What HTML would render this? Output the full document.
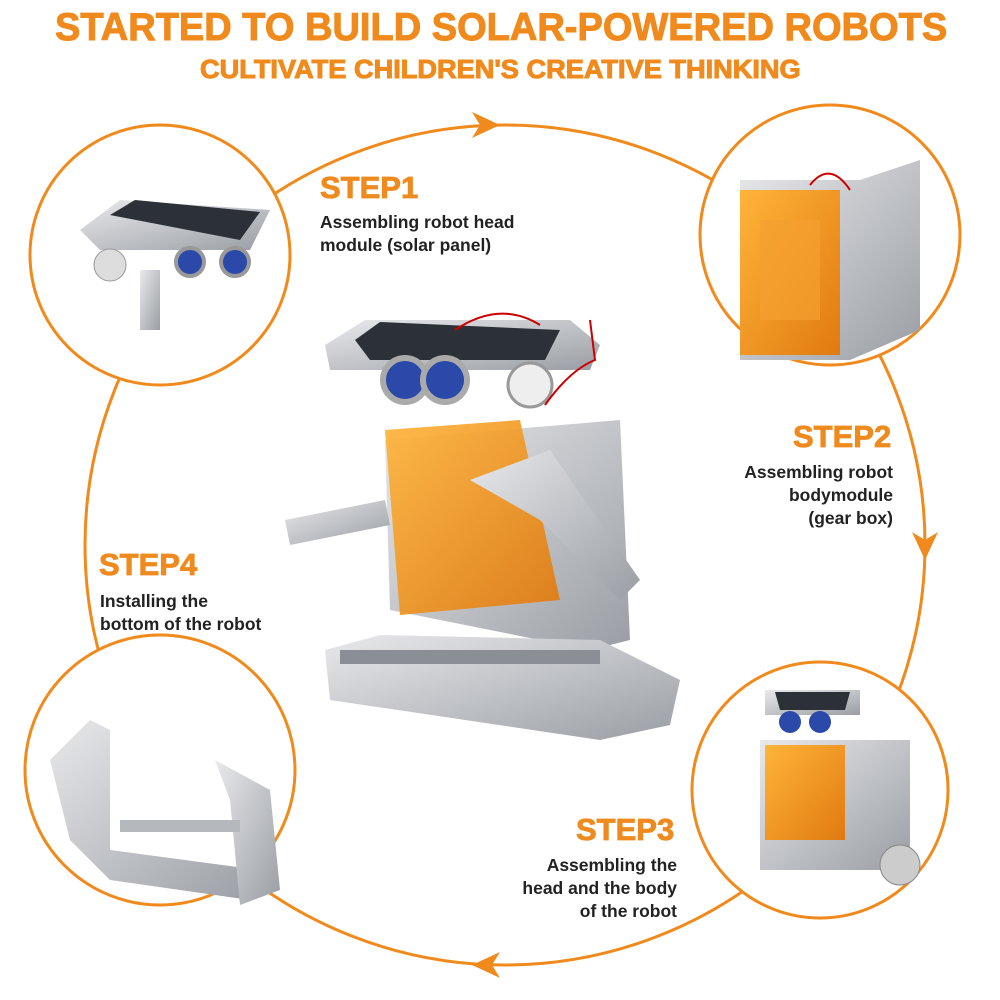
<!DOCTYPE html>
<html><head><meta charset="utf-8"><style>
body{margin:0;background:#fff;width:1000px;height:1000px;overflow:hidden;position:relative;font-family:"Liberation Sans","DejaVu Sans",sans-serif}
.t{position:absolute;font-weight:900;color:#f08a1c;white-space:nowrap;-webkit-text-stroke:1px #f08a1c;transform-origin:0 0}
.s{position:absolute;font-weight:bold;color:#ee8a1e;font-size:31px;-webkit-text-stroke:0.8px #ee8a1e}
.d{position:absolute;font-weight:bold;color:#222;font-size:17.5px;line-height:23px}
</style></head><body>
<svg width="1000" height="1000" style="position:absolute;left:0;top:0">
<defs>
<linearGradient id="g" x1="0" y1="0" x2="1" y2="1"><stop offset="0" stop-color="#e8e9eb"/><stop offset="1" stop-color="#9a9ea4"/></linearGradient>
<linearGradient id="o" x1="0" y1="0" x2="1" y2="1"><stop offset="0" stop-color="#ffb43a"/><stop offset="1" stop-color="#e07a10"/></linearGradient>
</defs>
<circle cx="505" cy="545" r="420" fill="none" stroke="#f08a1c" stroke-width="3"/>
<polygon points="472,112 500,125 472,138 480,125" fill="#f08a1c"/>
<polygon points="912,532 925,560 938,532 925,540" fill="#f08a1c"/>
<polygon points="500,952 472,965 500,978 492,965" fill="#f08a1c"/>
<circle cx="160" cy="255" r="130" fill="#fff" stroke="#f08a1c" stroke-width="3"/>
<circle cx="830" cy="235" r="130" fill="#fff" stroke="#f08a1c" stroke-width="3"/>
<circle cx="820" cy="790" r="128" fill="#fff" stroke="#f08a1c" stroke-width="3"/>
<circle cx="160" cy="770" r="135" fill="#fff" stroke="#f08a1c" stroke-width="3"/>
<polygon points="80,230 120,200 270,210 250,250 100,250" fill="url(#g)"/>
<polygon points="110,215 135,200 260,212 240,240" fill="#2c3138"/>
<circle cx="110" cy="265" r="16" fill="#ddd" stroke="#999"/>
<circle cx="190" cy="262" r="14" fill="#2a49a8" stroke="#999" stroke-width="4"/>
<circle cx="235" cy="262" r="14" fill="#2a49a8" stroke="#999" stroke-width="4"/>
<rect x="140" y="270" width="20" height="60" fill="url(#g)"/>
<polygon points="740,180 860,180 920,160 920,330 850,360 740,360" fill="url(#g)"/>
<polygon points="740,190 840,190 840,355 740,355" fill="url(#o)"/>
<rect x="760" y="220" width="60" height="100" fill="#f4a030" opacity=".7"/>
<polygon points="765,690 860,690 860,715 765,715" fill="url(#g)"/>
<polygon points="775,692 850,692 845,710 780,710" fill="#2c3138"/>
<circle cx="790" cy="722" r="11" fill="#2a49a8"/><circle cx="820" cy="722" r="11" fill="#2a49a8"/>
<rect x="760" y="740" width="150" height="130" fill="url(#g)"/>
<rect x="765" y="745" width="80" height="95" fill="url(#o)"/>
<circle cx="900" cy="865" r="20" fill="#ccc" stroke="#888"/>
<polygon points="50,760 90,720 110,730 110,850 260,870 250,900 110,880 70,840" fill="url(#g)"/>
<polygon points="215,760 270,790 280,890 240,905 230,800" fill="url(#g)"/>
<rect x="120" y="820" width="120" height="12" fill="#b5b8bc"/>
<polygon points="325,345 365,320 570,320 600,345 590,370 330,370" fill="url(#g)"/>
<polygon points="355,340 380,322 560,330 545,360 370,360" fill="#2c3138"/>
<circle cx="405" cy="380" r="22" fill="#2a49a8" stroke="#aaa" stroke-width="6"/>
<circle cx="445" cy="380" r="22" fill="#2a49a8" stroke="#aaa" stroke-width="6"/>
<circle cx="530" cy="385" r="22" fill="#eee" stroke="#999" stroke-width="3"/>
<polygon points="385,440 620,420 630,640 590,650 390,610" fill="url(#g)"/>
<polygon points="385,430 520,420 560,600 400,615" fill="url(#o)" opacity=".92"/>
<polygon points="285,520 385,500 390,525 290,545" fill="url(#g)"/>
<polygon points="470,480 550,450 640,580 620,600 540,520" fill="url(#g)"/>
<polygon points="325,650 380,635 600,640 680,680 670,725 600,740 330,700" fill="url(#g)"/>
<rect x="340" y="650" width="260" height="14" fill="#8b8f95"/>
<path d="M455,330 Q500,300 540,325 M545,405 Q570,370 595,360 L590,320" fill="none" stroke="#c00" stroke-width="2"/>
<path d="M810,185 Q830,160 850,190" fill="none" stroke="#c00" stroke-width="2"/>
</svg>
<div class="t" style="left:55px;top:6px;font-size:39px;transform:scaleX(0.975)">STARTED TO BUILD SOLAR-POWERED ROBOTS</div>
<div class="t" style="left:200px;top:54px;font-size:26px;transform:scaleX(1.045)">CULTIVATE CHILDREN'S CREATIVE THINKING</div>
<div class="s" style="left:320px;top:170px">STEP1</div>
<div class="d" style="left:320px;top:211px">Assembling robot head<br>module (solar panel)</div>
<div class="s" style="left:793px;top:419px">STEP2</div>
<div class="d" style="right:107px;top:461px;text-align:right">Assembling robot<br>bodymodule<br>(gear box)</div>
<div class="s" style="left:99px;top:547px">STEP4</div>
<div class="d" style="left:100px;top:590px">Installing the<br>bottom of the robot</div>
<div class="s" style="left:576px;top:812px">STEP3</div>
<div class="d" style="right:323px;top:854px;text-align:right">Assembling the<br>head and the body<br>of the robot</div>
</body></html>
